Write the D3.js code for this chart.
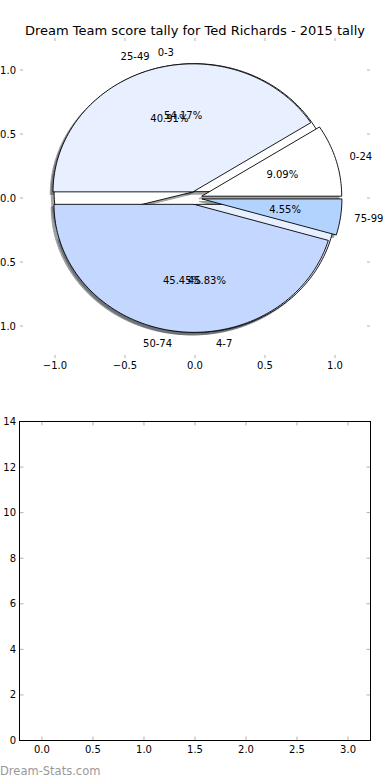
<!DOCTYPE html>
<html>
<head>
<meta charset="utf-8">
<script src="https://cdn.jsdelivr.net/npm/d3@7"></script>
<style>
  body { margin: 0; background: #fff; }
  svg { display: block; font-family: "DejaVu Sans", sans-serif; }
</style>
</head>
<body>
<script>
(function() {
  "use strict";

  var title = "Dream Team score tally for Ted Richards - 2015 tally";

  // outer tally (drawn on top)
  var scoreBands = ["0-24", "25-49", "50-74", "75-99"];
  var bandCounts = [2, 9, 10, 1];
  // second tally (drawn first, underneath)
  var rangeBands = ["0-3", "4-7"];
  var rangeCounts = [13, 11];

  var sliceColors = ["#ffffff", "#e8efff", "#c4d7ff", "#b3d3ff"];

  var pieTicks = [-1.0, -0.5, 0.0, 0.5, 1.0];
  var barXTicks = [0.0, 0.5, 1.0, 1.5, 2.0, 2.5, 3.0];
  var barYTicks = [0, 2, 4, 6, 8, 10, 12, 14];

  var width = 390, height = 780;
  var explode = 0.05;
  var tickGrey = "#b0b0b0";

  var svg = d3.select("body").append("svg")
    .attr("width", width)
    .attr("height", height);

  svg.append("text")
    .attr("x", 195).attr("y", 30)
    .attr("text-anchor", "middle")
    .attr("dominant-baseline", "central")
    .attr("font-size", 13)
    .attr("fill", "#000")
    .text(title);

  // ---- pie axes ----
  var px = d3.scaleLinear().domain([-1.25, 1.25]).range([20, 370]);
  var py = d3.scaleLinear().domain([-1.25, 1.25]).range([358, 38]);
  var fmtTick = d3.format(".1f");
  var minus = function(v) { return fmtTick(v).replace("-", "\u2212"); };

  var pieAx = svg.append("g");
  pieTicks.forEach(function(t) {
    [[38, 3], [358, -3]].forEach(function(e) {
      pieAx.append("line")
        .attr("x1", px(t)).attr("x2", px(t))
        .attr("y1", e[0]).attr("y2", e[0] + e[1])
        .attr("stroke", tickGrey);
    });
    [[20, 3], [370, -3]].forEach(function(e) {
      pieAx.append("line")
        .attr("y1", py(t)).attr("y2", py(t))
        .attr("x1", e[0]).attr("x2", e[0] + e[1])
        .attr("stroke", tickGrey);
    });
    pieAx.append("text")
      .attr("x", px(t)).attr("y", 365)
      .attr("text-anchor", "middle")
      .attr("dominant-baseline", "central")
      .attr("font-size", 10)
      .text(minus(t));
    pieAx.append("text")
      .attr("x", 16).attr("y", py(t))
      .attr("text-anchor", "end")
      .attr("dominant-baseline", "central")
      .attr("font-size", 10)
      .text(minus(t));
  });

  var pie = d3.pie().sort(null).startAngle(0).endAngle(2 * Math.PI);
  var line = d3.line().x(function(d) { return px(d[0]); }).y(function(d) { return py(d[1]); });

  function buildWedges(labels, counts) {
    var total = d3.sum(counts);
    return pie(counts).map(function(a, i) {
      var mid = (a.startAngle + a.endAngle) / 2;
      var ox = explode * Math.cos(mid), oy = explode * Math.sin(mid);
      var pts = [[ox, oy]];
      var n = Math.max(4, Math.ceil((a.endAngle - a.startAngle) * 40));
      for (var k = 0; k <= n; k++) {
        var th = a.startAngle + (a.endAngle - a.startAngle) * k / n;
        pts.push([ox + Math.cos(th), oy + Math.sin(th)]);
      }
      return {
        label: labels[i], pct: counts[i] / total * 100, color: sliceColors[i],
        mid: mid, ox: ox, oy: oy, pts: pts
      };
    });
  }

  var under = buildWedges(rangeBands, rangeCounts);
  var over = buildWedges(scoreBands, bandCounts);
  var all = under.concat(over);

  // shadows first, offset down-left
  all.forEach(function(w) {
    var c = d3.rgb(w.color);
    var sc = d3.rgb(c.r * 0.3, c.g * 0.3, c.b * 0.3);
    svg.append("path")
      .attr("d", line(w.pts.map(function(p) { return [p[0] - 0.02, p[1] - 0.02]; })) + "Z")
      .attr("fill", sc).attr("stroke", sc)
      .attr("opacity", 0.5);
  });

  all.forEach(function(w) {
    svg.append("path")
      .attr("d", line(w.pts) + "Z")
      .attr("fill", w.color)
      .attr("stroke", "#000")
      .attr("stroke-width", 0.9)
      .attr("stroke-linejoin", "round");
  });

  var fmtPct = d3.format(".2f");
  all.forEach(function(w) {
    var lx = w.ox + 1.1 * Math.cos(w.mid), ly = w.oy + 1.1 * Math.sin(w.mid);
    svg.append("text")
      .attr("x", px(lx)).attr("y", py(ly))
      .attr("text-anchor", lx > 0 ? "start" : "end")
      .attr("dominant-baseline", "central")
      .attr("font-size", 10)
      .text(w.label);
    svg.append("text")
      .attr("x", px(w.ox + 0.6 * Math.cos(w.mid)))
      .attr("y", py(w.oy + 0.6 * Math.sin(w.mid)))
      .attr("text-anchor", "middle")
      .attr("dominant-baseline", "central")
      .attr("font-size", 10)
      .text(fmtPct(w.pct) + "%");
  });

  // ---- empty lower axes ----
  var bx = d3.scaleLinear().domain([-0.22, 3.22]).range([19.5, 370.5]);
  var by = d3.scaleLinear().domain([0, 14]).range([740.5, 421.5]);
  var lower = svg.append("g");

  barXTicks.forEach(function(t) {
    lower.append("line")
      .attr("x1", bx(t)).attr("x2", bx(t))
      .attr("y1", by(0)).attr("y2", by(0) - 4)
      .attr("stroke", tickGrey);
    lower.append("line")
      .attr("x1", bx(t)).attr("x2", bx(t))
      .attr("y1", by(14)).attr("y2", by(14) + 4)
      .attr("stroke", tickGrey);
    lower.append("text")
      .attr("x", bx(t)).attr("y", 749)
      .attr("text-anchor", "middle")
      .attr("dominant-baseline", "central")
      .attr("font-size", 10)
      .text(fmtTick(t));
  });
  barYTicks.forEach(function(t) {
    lower.append("line")
      .attr("y1", by(t)).attr("y2", by(t))
      .attr("x1", bx.range()[0]).attr("x2", bx.range()[0] + 4)
      .attr("stroke", tickGrey);
    lower.append("line")
      .attr("y1", by(t)).attr("y2", by(t))
      .attr("x1", bx.range()[1]).attr("x2", bx.range()[1] - 4)
      .attr("stroke", tickGrey);
    lower.append("text")
      .attr("x", 16).attr("y", by(t))
      .attr("text-anchor", "end")
      .attr("dominant-baseline", "central")
      .attr("font-size", 10)
      .text(t);
  });

  lower.append("rect")
    .attr("x", bx.range()[0]).attr("y", by(14))
    .attr("width", bx.range()[1] - bx.range()[0])
    .attr("height", by(0) - by(14))
    .attr("fill", "none")
    .attr("stroke", "#000");

  svg.append("text")
    .attr("x", 0).attr("y", 775)
    .attr("font-size", 11.5)
    .attr("fill", "#999")
    .text("Dream-Stats.com");
})();
</script>
</body>
</html>
